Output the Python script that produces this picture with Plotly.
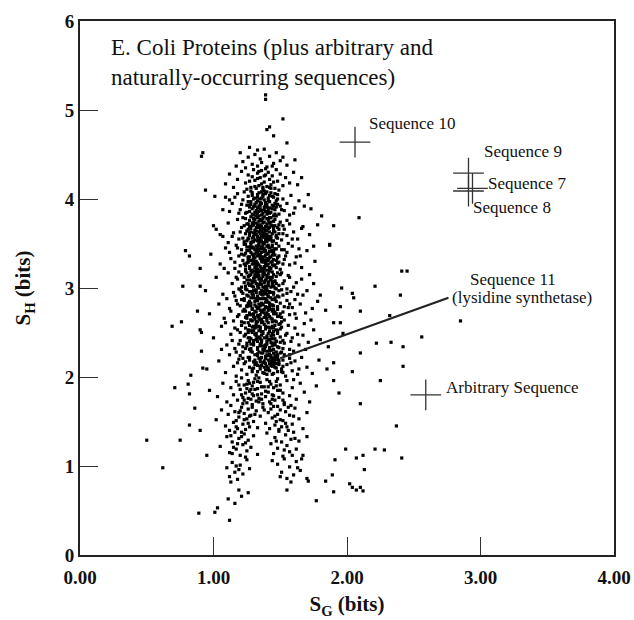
import plotly.graph_objects as go

# (S_G, S_H) pairs for E. coli proteins, grouped by region of the cloud
upper_tail = [
    (1.39,5.17),(1.39,5.12),(1.52,4.90),(1.42,4.81),(1.40,4.78),(1.45,4.71),(1.55,4.63),(0.92,4.52),(0.91,4.48),
    (1.20,4.52),(1.26,4.47),(1.33,4.55),(1.38,4.56),(1.61,4.44),(1.22,4.42),(1.29,4.39),(1.35,4.45),(1.42,4.48),
    (1.45,4.40),(1.50,4.43),(1.55,4.38),(1.31,4.50),(1.40,4.36),(1.17,4.37),(1.47,4.52),(1.36,4.41),(1.27,4.58),
    (1.52,4.47),(1.24,4.35),(1.44,4.37),(1.33,4.37),(1.66,4.24),
    (1.12,4.28),(1.18,4.22),(1.21,4.31),(1.24,4.18),(1.26,4.27),(1.28,4.13),(1.30,4.33),(1.31,4.21),(1.33,4.29),
    (1.34,4.15),(1.35,4.24),(1.36,4.32),(1.37,4.11),(1.38,4.19),(1.39,4.27),(1.40,4.14),(1.41,4.30),(1.42,4.22),
    (1.43,4.16),(1.44,4.26),(1.46,4.12),(1.47,4.33),(1.48,4.20),(1.50,4.28),(1.52,4.15),(1.54,4.24),(1.57,4.18),
    (1.60,4.30),(1.29,4.25),(1.32,4.12),(1.36,4.17),(1.39,4.34),(1.45,4.19),(1.27,4.20),(1.34,4.31),(1.38,4.26),
    (1.42,4.13),(1.25,4.11),(1.63,4.16),(1.15,4.13),(1.49,4.10),(1.33,4.23),(1.09,4.17),(0.94,4.10),(1.01,4.03),
]

core_upper = [
    (1.09,4.02),(1.14,3.95),(1.18,4.06),(1.20,3.88),(1.22,3.99),(1.23,4.08),(1.24,3.84),(1.25,3.93),(1.26,4.03),
    (1.27,3.86),(1.28,3.97),(1.29,4.07),(1.30,3.82),(1.30,3.91),(1.31,4.01),(1.32,3.87),(1.32,3.96),(1.33,4.05),
    (1.34,3.81),(1.34,3.92),(1.35,4.00),(1.35,3.89),(1.36,4.08),(1.36,3.95),(1.37,3.84),(1.37,4.03),(1.38,3.91),
    (1.38,3.99),(1.39,3.86),(1.39,4.06),(1.40,3.94),(1.40,3.83),(1.41,4.01),(1.41,3.89),(1.42,3.97),(1.43,4.07),
    (1.43,3.85),(1.44,3.93),(1.45,4.02),(1.46,3.88),(1.47,3.98),(1.48,4.05),(1.49,3.83),(1.50,3.92),(1.52,4.00),
    (1.53,3.87),(1.55,3.95),(1.58,4.04),(1.61,3.90),(1.64,3.98),(1.27,3.93),(1.33,3.98),(1.36,3.87),(1.42,3.90),
    (1.31,3.85),(1.38,4.09),(1.45,3.81),(1.21,3.94),(1.29,3.89),(1.47,3.91),(1.12,3.86),(1.57,3.82),(1.68,3.92),
    (1.07,3.88),(1.81,3.81),(1.02,3.66),(1.07,3.58),(1.11,3.73),(1.15,3.62),(1.18,3.77),(1.19,3.55),(1.21,3.68),
    (1.22,3.79),(1.23,3.52),(1.24,3.61),(1.25,3.72),(1.26,3.56),(1.26,3.66),(1.27,3.76),(1.28,3.51),(1.28,3.63),
    (1.29,3.70),(1.30,3.58),(1.30,3.78),(1.31,3.65),(1.31,3.54),(1.32,3.73),(1.32,3.60),(1.33,3.68),(1.33,3.79),
    (1.34,3.55),(1.34,3.63),(1.35,3.71),(1.35,3.52),(1.36,3.59),(1.36,3.76),(1.37,3.66),(1.37,3.57),(1.38,3.74),
    (1.38,3.62),(1.39,3.53),(1.39,3.69),(1.40,3.78),(1.40,3.60),(1.41,3.67),(1.41,3.55),(1.42,3.73),(1.42,3.63),
    (1.43,3.58),(1.44,3.70),(1.44,3.52),(1.45,3.64),(1.46,3.77),(1.47,3.57),(1.48,3.68),(1.49,3.61),(1.50,3.74),
    (1.51,3.54),(1.53,3.66),(1.55,3.59),(1.57,3.72),(1.60,3.63),(1.63,3.55),(1.67,3.69),(1.72,3.60),(1.29,3.56),
    (1.34,3.75),(1.37,3.51),(1.40,3.69),(1.43,3.79),(1.27,3.69),(1.31,3.61),(1.35,3.65),(1.39,3.58),(1.46,3.63),
    (1.25,3.53),(1.33,3.57),(1.38,3.67),(1.42,3.54),(1.30,3.71),(1.36,3.63),(1.41,3.76),(1.48,3.56),(1.52,3.70),
    (1.23,3.70),(1.78,3.71),(1.90,3.70),(1.87,3.48),(1.00,3.70),(1.05,3.60),(2.09,3.79),
]

core_middle = [
    (0.98,3.38),(1.05,3.27),(1.09,3.45),(1.13,3.33),(1.16,3.22),(1.17,3.48),(1.19,3.36),(1.20,3.25),(1.21,3.43),
    (1.22,3.31),(1.23,3.49),(1.24,3.21),(1.24,3.39),(1.25,3.28),(1.25,3.46),(1.26,3.35),(1.27,3.24),(1.27,3.42),
    (1.28,3.31),(1.28,3.49),(1.29,3.20),(1.29,3.38),(1.30,3.27),(1.30,3.45),(1.31,3.34),(1.31,3.23),(1.32,3.41),
    (1.32,3.30),(1.33,3.47),(1.33,3.21),(1.34,3.37),(1.34,3.26),(1.35,3.44),(1.35,3.33),(1.36,3.22),(1.36,3.40),
    (1.37,3.29),(1.37,3.48),(1.38,3.35),(1.38,3.24),(1.39,3.42),(1.39,3.31),(1.40,3.20),(1.40,3.39),(1.41,3.27),
    (1.41,3.46),(1.42,3.34),(1.42,3.23),(1.43,3.41),(1.44,3.30),(1.44,3.48),(1.45,3.25),(1.46,3.37),(1.47,3.44),
    (1.48,3.28),(1.49,3.36),(1.50,3.21),(1.51,3.43),(1.53,3.32),(1.55,3.40),(1.57,3.26),(1.59,3.47),(1.62,3.35),
    (1.66,3.23),(1.70,3.42),(1.76,3.30),(1.26,3.29),(1.30,3.36),(1.33,3.44),(1.36,3.31),(1.39,3.25),(1.42,3.45),
    (1.35,3.38),(1.29,3.46),(1.32,3.24),(1.38,3.41),(1.41,3.33),(1.45,3.42),(1.47,3.31),(1.27,3.35),(1.23,3.27),
    (1.34,3.48),(1.37,3.20),(1.40,3.47),(1.43,3.22),(1.21,3.38),(1.31,3.29),(1.36,3.46),(1.44,3.37),(1.52,3.27),
    (1.12,3.40),(1.64,3.44),(0.79,3.42),(0.82,3.36),(0.90,3.22),(1.75,3.47),(1.87,3.49),
    (0.90,3.02),(0.94,2.97),(1.02,3.12),(1.07,2.93),(1.11,3.17),(1.14,3.05),(1.16,2.91),(1.18,3.10),(1.19,2.99),
    (1.21,3.15),(1.22,2.94),(1.23,3.06),(1.24,3.19),(1.25,2.98),(1.25,3.09),(1.26,2.91),(1.27,3.03),(1.27,3.14),
    (1.28,2.96),(1.29,3.08),(1.29,3.18),(1.30,2.92),(1.30,3.01),(1.31,3.12),(1.32,2.95),(1.32,3.05),(1.33,3.16),
    (1.33,2.90),(1.34,3.00),(1.34,3.10),(1.35,2.94),(1.35,3.19),(1.36,3.04),(1.36,2.97),(1.37,3.13),(1.37,2.92),
    (1.38,3.07),(1.38,3.17),(1.39,2.99),(1.39,3.02),(1.40,3.11),(1.40,2.93),(1.41,3.06),(1.41,3.16),(1.42,2.96),
    (1.43,3.09),(1.43,3.01),(1.44,3.18),(1.45,2.95),(1.46,3.07),(1.47,3.13),(1.48,2.91),(1.49,3.03),(1.50,3.15),
    (1.51,2.98),(1.53,3.08),(1.55,2.94),(1.57,3.12),(1.60,3.01),(1.63,2.93),(1.66,3.10),(1.70,2.97),(1.75,3.05),
    (1.80,2.92),(1.28,3.04),(1.31,2.97),(1.34,3.14),(1.36,3.09),(1.39,2.94),(1.42,3.12),(1.26,3.13),(1.32,3.18),
    (1.38,2.96),(1.44,3.04),(1.35,3.06),(1.30,3.11),(1.40,3.00),(1.47,2.99),(1.24,3.02),(1.21,2.96),(1.52,3.05),
    (1.58,2.96),(1.33,3.03),(1.37,3.19),(1.41,2.91),(1.29,2.93),(0.77,3.02),(1.96,3.00),(2.04,2.94),(2.05,2.89),
    (2.21,3.02),(2.41,3.19),(2.45,3.19),(2.40,2.92),
]

core_lower = [
    (0.88,2.74),(0.97,2.71),(1.04,2.82),(1.08,2.66),(1.12,2.77),(1.15,2.63),(1.17,2.86),(1.19,2.70),(1.20,2.80),
    (1.21,2.62),(1.22,2.74),(1.23,2.88),(1.24,2.67),(1.25,2.79),(1.26,2.61),(1.27,2.72),(1.27,2.85),(1.28,2.64),
    (1.29,2.76),(1.30,2.89),(1.30,2.68),(1.31,2.81),(1.32,2.62),(1.32,2.73),(1.33,2.86),(1.34,2.66),(1.34,2.78),
    (1.35,2.70),(1.36,2.83),(1.36,2.61),(1.37,2.75),(1.38,2.88),(1.38,2.67),(1.39,2.79),(1.40,2.63),(1.40,2.72),
    (1.41,2.84),(1.42,2.68),(1.42,2.77),(1.43,2.89),(1.44,2.65),(1.45,2.80),(1.45,2.71),(1.46,2.87),(1.47,2.62),
    (1.48,2.76),(1.49,2.68),(1.50,2.83),(1.52,2.73),(1.53,2.64),(1.55,2.86),(1.57,2.70),(1.59,2.78),(1.62,2.66),
    (1.65,2.82),(1.69,2.72),(1.73,2.64),(1.78,2.85),(1.84,2.75),(1.29,2.70),(1.33,2.77),(1.35,2.64),(1.37,2.82),
    (1.39,2.69),(1.41,2.75),(1.26,2.80),(1.31,2.65),(1.36,2.73),(1.43,2.81),(1.47,2.71),(1.28,2.83),(1.34,2.88),
    (1.40,2.86),(1.44,2.74),(1.23,2.76),(1.51,2.67),(1.18,2.82),(1.56,2.78),(1.61,2.87),(1.25,2.69),(0.69,2.57),
    (0.76,2.62),(0.90,2.53),(1.95,2.79),(2.10,2.74),(1.90,2.61),(1.95,2.61),(2.32,2.69),(2.85,2.63),
    (0.91,2.50),(1.00,2.44),(1.06,2.57),(1.10,2.36),(1.13,2.48),(1.16,2.32),(1.18,2.53),(1.20,2.41),(1.21,2.58),
    (1.22,2.34),(1.23,2.46),(1.24,2.55),(1.25,2.38),(1.26,2.50),(1.27,2.31),(1.28,2.43),(1.29,2.56),(1.30,2.36),
    (1.31,2.48),(1.32,2.59),(1.33,2.33),(1.34,2.45),(1.35,2.54),(1.36,2.39),(1.37,2.51),(1.38,2.32),(1.38,2.44),
    (1.39,2.57),(1.40,2.37),(1.41,2.49),(1.42,2.30),(1.42,2.42),(1.43,2.55),(1.44,2.35),(1.45,2.47),(1.46,2.58),
    (1.47,2.40),(1.48,2.52),(1.49,2.33),(1.50,2.45),(1.51,2.56),(1.53,2.38),(1.55,2.49),(1.57,2.31),(1.59,2.44),
    (1.61,2.55),(1.64,2.36),(1.67,2.47),(1.71,2.39),(1.75,2.53),(1.80,2.42),(1.86,2.34),(1.30,2.52),(1.33,2.40),
    (1.36,2.47),(1.39,2.34),(1.41,2.56),(1.44,2.43),(1.46,2.36),(1.34,2.57),(1.37,2.31),(1.40,2.46),(1.43,2.39),
    (1.28,2.37),(1.32,2.49),(1.47,2.53),(1.26,2.44),(1.52,2.41),(1.49,2.59),(1.24,2.32),(1.35,2.35),(1.45,2.51),
    (1.97,2.49),(2.56,2.45),(2.22,2.38),(2.33,2.39),(2.42,2.34),(0.91,2.29),
    (0.92,2.10),(0.95,2.09),(1.04,2.18),(1.09,2.05),(1.12,2.25),(1.15,2.12),(1.17,2.01),(1.19,2.20),(1.21,2.08),
    (1.22,2.28),(1.23,2.15),(1.25,2.03),(1.26,2.22),(1.27,2.11),(1.28,2.29),(1.29,2.06),(1.30,2.17),(1.31,2.25),
    (1.32,2.02),(1.33,2.13),(1.34,2.21),(1.35,2.09),(1.36,2.27),(1.37,2.16),(1.38,2.04),(1.39,2.23),(1.40,2.12),
    (1.41,2.19),(1.42,2.07),(1.42,2.26),(1.43,2.15),(1.44,2.21),(1.44,2.03),(1.45,2.18),(1.46,2.24),(1.46,2.11),
    (1.47,2.20),(1.48,2.06),(1.49,2.16),(1.50,2.27),(1.51,2.09),(1.52,2.19),(1.54,2.01),(1.55,2.14),(1.57,2.25),
    (1.59,2.07),(1.61,2.18),(1.63,2.03),(1.66,2.22),(1.70,2.11),(1.74,2.04),(1.79,2.19),(1.85,2.09),(1.43,2.22),
    (1.45,2.14),(1.40,2.25),(1.38,2.18),(1.47,2.28),(1.41,2.10),(1.36,2.13),(1.33,2.26),(1.30,2.10),(1.27,2.19),
    (1.48,2.23),(1.44,2.12),(1.39,2.08),(1.35,2.20),(1.24,2.17),(1.52,2.05),(1.58,2.16),(1.20,2.24),(0.83,2.02),
    (2.10,2.27),(1.90,2.16),(2.42,2.12),(2.04,2.06),
]

# Densest part of the cloud, where the dots run together
core_dense = [
    (1.28,4.09),(1.31,4.14),(1.34,4.07),(1.37,4.13),(1.40,4.08),(1.43,4.12),(1.46,4.06),
    (1.26,3.97),(1.29,4.04),(1.31,3.94),(1.33,4.02),(1.35,3.96),(1.37,4.05),(1.39,3.93),(1.41,3.98),(1.44,4.03),
    (1.46,3.95),(1.48,4.00),
    (1.25,3.85),(1.27,3.91),(1.29,3.83),(1.31,3.92),(1.33,3.84),(1.35,3.93),(1.36,3.82),(1.38,3.88),(1.40,3.91),
    (1.42,3.84),(1.44,3.89),(1.46,3.83),(1.48,3.94),
    (1.24,3.78),(1.26,3.72),(1.28,3.80),(1.30,3.74),(1.32,3.81),(1.33,3.71),(1.35,3.77),(1.37,3.73),(1.38,3.80),
    (1.40,3.72),(1.42,3.79),(1.43,3.70),(1.45,3.75),(1.47,3.81),(1.49,3.71),
    (1.25,3.64),(1.27,3.59),(1.28,3.67),(1.30,3.62),(1.32,3.68),(1.33,3.58),(1.35,3.61),(1.36,3.69),(1.38,3.60),
    (1.39,3.65),(1.41,3.58),(1.42,3.68),(1.44,3.61),(1.45,3.67),(1.47,3.59),(1.49,3.66),
    (1.24,3.49),(1.26,3.55),(1.27,3.46),(1.29,3.52),(1.30,3.57),(1.32,3.47),(1.33,3.53),(1.35,3.56),(1.36,3.45),
    (1.38,3.50),(1.39,3.55),(1.41,3.48),(1.42,3.57),(1.44,3.46),(1.45,3.53),(1.47,3.50),(1.49,3.47),
    (1.23,3.37),(1.25,3.42),(1.26,3.34),(1.28,3.40),(1.30,3.33),(1.31,3.43),(1.33,3.36),(1.34,3.42),(1.36,3.35),
    (1.37,3.44),(1.39,3.37),(1.40,3.33),(1.42,3.41),(1.43,3.35),(1.45,3.39),(1.46,3.44),(1.48,3.34),
    (1.24,3.25),(1.26,3.31),(1.27,3.22),(1.29,3.27),(1.30,3.32),(1.32,3.21),(1.33,3.28),(1.35,3.24),(1.36,3.30),
    (1.38,3.21),(1.39,3.28),(1.41,3.31),(1.42,3.20),(1.44,3.26),(1.45,3.32),(1.47,3.23),(1.49,3.29),
    (1.23,3.12),(1.25,3.17),(1.27,3.09),(1.28,3.15),(1.30,3.19),(1.31,3.08),(1.33,3.13),(1.34,3.18),(1.36,3.11),
    (1.37,3.16),(1.39,3.09),(1.40,3.14),(1.42,3.19),(1.43,3.10),(1.45,3.15),(1.46,3.08),(1.48,3.17),
    (1.24,2.99),(1.26,3.05),(1.27,2.96),(1.29,3.02),(1.31,3.07),(1.32,2.98),(1.34,3.04),(1.35,2.95),(1.37,3.01),
    (1.38,3.06),(1.40,2.97),(1.41,3.03),(1.43,2.95),(1.44,3.07),(1.46,3.00),(1.47,3.05),(1.49,2.97),
    (1.23,2.86),(1.25,2.92),(1.26,2.83),(1.28,2.89),(1.29,2.94),(1.31,2.85),(1.33,2.91),(1.34,2.82),(1.36,2.88),
    (1.37,2.93),(1.39,2.84),(1.41,2.90),(1.42,2.83),(1.44,2.87),(1.45,2.93),(1.47,2.85),(1.49,2.90),
    (1.24,2.74),(1.25,2.80),(1.27,2.70),(1.29,2.77),(1.30,2.71),(1.32,2.79),(1.33,2.69),(1.35,2.75),(1.37,2.81),
    (1.38,2.72),(1.40,2.78),(1.41,2.70),(1.43,2.76),(1.44,2.81),(1.46,2.73),(1.48,2.79),(1.50,2.71),
    (1.23,2.61),(1.25,2.66),(1.27,2.58),(1.28,2.64),(1.30,2.57),(1.31,2.67),(1.33,2.62),(1.35,2.56),(1.36,2.65),
    (1.38,2.59),(1.39,2.68),(1.41,2.61),(1.43,2.66),(1.44,2.57),(1.46,2.63),(1.48,2.68),(1.50,2.60),
    (1.24,2.48),(1.26,2.53),(1.27,2.44),(1.29,2.50),(1.31,2.55),(1.32,2.46),(1.34,2.52),(1.35,2.43),(1.37,2.49),
    (1.39,2.54),(1.40,2.44),(1.42,2.51),(1.43,2.46),(1.45,2.55),(1.46,2.43),(1.48,2.49),(1.50,2.54),
    (1.25,2.35),(1.27,2.40),(1.28,2.32),(1.30,2.38),(1.32,2.42),(1.33,2.31),(1.35,2.37),(1.36,2.41),(1.38,2.30),
    (1.39,2.36),(1.41,2.42),(1.42,2.33),(1.44,2.38),(1.45,2.31),(1.47,2.40),(1.48,2.34),(1.50,2.39),(1.52,2.32),
    (1.27,2.22),(1.29,2.28),(1.31,2.19),(1.33,2.24),(1.35,2.17),(1.37,2.27),(1.39,2.21),(1.40,2.29),(1.42,2.18),
    (1.43,2.24),(1.44,2.16),(1.45,2.27),(1.46,2.20),(1.47,2.15),(1.48,2.25),(1.49,2.19),(1.51,2.28),
    (1.29,2.09),(1.31,2.14),(1.33,2.06),(1.35,2.12),(1.37,2.05),(1.39,2.15),(1.41,2.08),(1.43,2.13),(1.45,2.04),
    (1.47,2.10),(1.49,2.14),(1.51,2.06),
    (1.30,4.00),(1.36,4.01),(1.42,4.04),(1.33,3.90),(1.39,3.96),(1.45,3.92),(1.28,3.94),(1.34,3.86),(1.41,3.86),
    (1.37,3.78),(1.31,3.77),(1.43,3.74),(1.29,3.73),(1.35,3.68),(1.40,3.64),(1.32,3.64),(1.46,3.70),(1.27,3.62),
    (1.37,3.62),(1.43,3.55),(1.30,3.52),(1.34,3.50),(1.40,3.52),(1.36,3.53),(1.28,3.45),(1.33,3.40),(1.38,3.44),
    (1.44,3.42),(1.31,3.38),(1.35,3.35),(1.41,3.38),(1.29,3.31),(1.37,3.32),(1.43,3.29),(1.32,3.26),(1.40,3.25),
    (1.34,3.20),(1.46,3.26),(1.28,3.19),(1.38,3.15),(1.31,3.15),(1.44,3.12),(1.35,3.10),(1.41,3.07),(1.29,3.06),
    (1.33,3.02),(1.38,3.00),(1.45,3.02),(1.30,2.97),(1.36,2.93),(1.42,2.95),(1.32,2.88),(1.39,2.88),(1.46,2.89),
    (1.28,2.80),(1.35,2.80),(1.42,2.80),(1.31,2.74),(1.38,2.76),(1.45,2.76),(1.34,2.68),(1.40,2.66),(1.29,2.63),
    (1.37,2.62),(1.44,2.62),(1.32,2.56),(1.42,2.55),(1.28,2.52),(1.36,2.51),(1.44,2.49),(1.33,2.44),(1.40,2.40),
    (1.30,2.41),(1.46,2.38),(1.37,2.35),(1.43,2.30),(1.34,2.28),(1.41,2.24),(1.45,2.21),(1.47,2.23),(1.44,2.19),
    (1.42,2.15),(1.38,2.11),(1.46,2.17),(1.48,2.20),(1.36,2.22),(1.32,2.16),(1.40,2.03),(1.34,1.99),
]

# Looser halo either side of the dense core
core_halo = [
    (1.14,3.58),(1.16,3.29),(1.17,3.12),(1.15,2.95),(1.13,2.74),(1.16,2.55),(1.14,2.41),(1.17,2.28),(1.18,2.16),
    (1.19,3.84),(1.20,3.63),(1.18,3.45),(1.19,3.18),(1.20,2.98),(1.18,2.68),(1.20,2.50),(1.19,2.37),(1.21,3.01),
    (1.22,3.56),(1.21,2.87),(1.22,2.21),(1.16,4.02),(1.11,3.51),(1.10,2.88),(1.09,2.61),(1.08,3.22),(1.06,2.31),
    (1.12,3.99),
    (1.51,3.88),(1.52,3.61),(1.53,3.43),(1.51,3.17),(1.52,2.92),(1.53,2.79),(1.51,2.62),(1.54,2.47),(1.53,2.25),
    (1.52,2.12),(1.55,3.76),(1.56,3.50),(1.54,3.36),(1.56,3.14),(1.55,2.99),(1.57,2.82),(1.56,2.58),(1.58,2.40),
    (1.57,2.21),(1.60,3.84),(1.59,3.55),(1.61,3.28),(1.62,3.06),(1.61,2.71),(1.63,2.48),(1.60,2.29),(1.64,2.09),
    (1.66,3.67),(1.65,3.36),(1.67,2.92),(1.68,2.60),(1.69,2.31),(1.72,3.15),(1.74,2.77),(1.71,4.05),(1.73,3.89),
    (1.25,1.92),(1.28,1.86),(1.30,1.94),(1.33,1.80),(1.36,1.89),(1.39,1.84),(1.42,1.95),(1.45,1.79),(1.47,1.90),
    (1.50,1.85),(1.22,1.70),(1.26,1.76),(1.29,1.66),(1.34,1.72),(1.38,1.63),(1.43,1.70),(1.48,1.67),(1.52,1.74),
    (1.56,1.66),(1.19,1.60),(1.23,1.52),(1.27,1.56),(1.46,1.56),(1.50,1.52),(1.54,1.48),(1.60,1.56),(1.17,1.44),
    (1.21,1.38),(1.56,1.40),(1.61,1.31),(1.14,1.14),(1.24,1.10),(1.59,1.12),(1.63,0.98),(1.17,1.00),
]

lower_lobes = [
    (0.97,1.85),(1.03,1.78),(1.07,1.93),(1.10,1.72),(1.13,1.88),(1.15,1.80),(1.17,1.95),(1.18,1.74),(1.20,1.86),
    (1.21,1.99),(1.22,1.77),(1.23,1.91),(1.24,1.82),(1.25,1.71),(1.26,1.96),(1.27,1.84),(1.28,1.75),(1.29,1.90),
    (1.30,1.79),(1.31,1.98),(1.32,1.73),(1.33,1.87),(1.34,1.76),(1.35,1.94),(1.36,1.81),(1.37,1.70),(1.38,1.89),
    (1.39,1.78),(1.40,1.97),(1.41,1.83),(1.42,1.72),(1.43,1.92),(1.44,1.80),(1.45,1.88),(1.46,1.74),(1.47,1.95),
    (1.48,1.85),(1.49,1.77),(1.50,1.91),(1.52,1.82),(1.53,1.71),(1.55,1.96),(1.57,1.79),(1.59,1.88),(1.62,1.75),
    (1.65,1.93),(1.68,1.83),(1.72,1.72),(1.77,1.90),(1.25,1.87),(1.29,1.81),(1.33,1.95),(1.36,1.75),(1.21,1.80),
    (1.27,1.93),(1.41,1.89),(1.19,1.91),(1.31,1.86),(1.44,1.75),(1.48,1.98),(1.23,1.74),(1.60,1.97),(0.71,1.88),
    (0.82,1.81),(0.81,1.92),(2.25,1.96),(1.90,1.96),(1.94,1.82),(2.10,1.70),
    (1.02,1.52),(1.06,1.63),(1.09,1.45),(1.11,1.58),(1.13,1.68),(1.15,1.49),(1.16,1.61),(1.18,1.42),(1.19,1.55),
    (1.21,1.66),(1.22,1.47),(1.23,1.59),(1.24,1.41),(1.25,1.53),(1.26,1.64),(1.27,1.44),(1.28,1.57),(1.29,1.69),
    (1.30,1.50),(1.32,1.62),(1.33,1.43),(1.35,1.56),(1.37,1.66),(1.39,1.48),(1.41,1.60),(1.42,1.42),(1.44,1.54),
    (1.45,1.67),(1.46,1.46),(1.48,1.58),(1.49,1.41),(1.50,1.63),(1.52,1.51),(1.53,1.69),(1.55,1.44),(1.57,1.57),
    (1.59,1.47),(1.61,1.65),(1.64,1.53),(1.67,1.42),(1.70,1.60),(1.20,1.62),(1.26,1.48),(1.43,1.64),(1.47,1.50),
    (1.51,1.44),(1.17,1.51),(1.54,1.61),(1.12,1.40),(1.31,1.58),(1.58,1.68),(0.86,1.65),(0.82,1.46),(2.37,1.45),
    (1.05,1.22),(1.10,1.33),(1.12,1.15),(1.14,1.27),(1.16,1.38),(1.17,1.19),(1.19,1.31),(1.20,1.12),(1.22,1.24),
    (1.23,1.36),(1.25,1.17),(1.26,1.29),(1.28,1.21),(1.30,1.34),(1.33,1.13),(1.40,1.37),(1.43,1.25),(1.45,1.14),
    (1.46,1.32),(1.48,1.20),(1.49,1.39),(1.51,1.27),(1.52,1.11),(1.54,1.35),(1.55,1.23),(1.57,1.16),(1.58,1.30),
    (1.60,1.38),(1.62,1.19),(1.64,1.28),(1.67,1.12),(1.70,1.33),(1.15,1.21),(1.21,1.33),(1.18,1.25),(1.47,1.28),
    (1.53,1.18),(1.13,1.34),(1.24,1.26),(0.50,1.29),(0.75,1.29),(0.90,1.40),(0.95,1.12),
    (1.99,1.19),(2.21,1.19),(2.28,1.18),(2.12,1.12),(2.07,1.09),(2.41,1.09),(1.91,1.07),
]

bottom_tail = [
    (1.10,0.98),(1.12,0.88),(1.14,1.04),(1.16,0.93),(1.18,0.85),(1.20,1.01),(1.22,0.91),(1.25,1.07),(1.13,0.82),
    (1.19,0.96),(1.48,1.02),(1.51,0.93),(1.53,1.08),(1.55,0.86),(1.57,0.99),(1.60,0.90),(1.62,1.05),(1.65,0.95),
    (1.58,0.82),(1.66,1.08),(1.70,0.86),(1.50,0.88),(1.27,0.97),(1.44,1.06),(0.62,0.98),
    (0.89,0.47),(1.01,0.48),(1.03,0.53),(1.12,0.39),(1.11,0.63),(1.16,0.58),(1.26,0.70),(1.21,0.66),(1.19,0.73),
    (1.55,0.73),(1.71,0.83),(1.84,0.83),(1.90,0.71),(1.77,0.61),(2.13,0.96),(1.89,0.90),
    (2.02,0.80),(2.04,0.76),(2.07,0.73),(2.10,0.76),(2.12,0.72),
]

# Named test sequences plotted as crosses
seq_names = ["Sequence 10", "Sequence 9", "Sequence 7", "Sequence 8", "Arbitrary Sequence"]
seq_sg = [2.06, 2.91, 2.94, 2.91, 2.59]
seq_sh = [4.64, 4.29, 4.12, 4.09, 1.80]

# Label text and where each label sits
label_text = ["Sequence 10", "Sequence 9", "Sequence 7", "Sequence 8",
              "Sequence 11", "(lysidine synthetase)", "Arbitrary Sequence"]
label_sg = [2.15, 3.01, 3.04, 2.93, 2.91, 2.77, 2.73]
label_sh = [4.85, 4.53, 4.17, 3.90, 3.10, 2.89, 1.88]

# Leader from the Sequence 11 label down into the protein cloud
seq11_sg = [1.50, 2.76]
seq11_sh = [2.21, 2.89]

x_ticks = [0, 1, 2, 3, 4]
x_tick_text = ["0.00", "1.00", "2.00", "3.00", "4.00"]
y_ticks = [0, 1, 2, 3, 4, 5, 6]

SERIF = "Liberation Serif, Times New Roman, serif"

all_points = (upper_tail + core_upper + core_middle + core_lower + core_dense
              + core_halo + lower_lobes + bottom_tail)
protein_sg = [p[0] for p in all_points]
protein_sh = [p[1] for p in all_points]

fig = go.Figure()

fig.add_trace(go.Scatter(
    x=protein_sg, y=protein_sh, mode="markers",
    marker=dict(symbol="square", size=3.2, color="black", line=dict(width=0)),
    hoverinfo="skip", showlegend=False,
))

fig.add_trace(go.Scatter(
    x=seq11_sg, y=seq11_sh, mode="lines",
    line=dict(color="#222222", width=2.2),
    hoverinfo="skip", showlegend=False,
))

fig.add_trace(go.Scatter(
    x=seq_sg, y=seq_sh, mode="markers", text=seq_names,
    marker=dict(symbol="cross-thin-open", size=22, color="#333333",
                line=dict(width=1.3, color="#333333")),
    hoverinfo="text", showlegend=False,
))

for t, xs, ys in zip(label_text, label_sg, label_sh):
    fig.add_annotation(x=xs, y=ys, text=t, showarrow=False,
                       xanchor="left", yanchor="middle",
                       font=dict(family=SERIF, size=17, color="#111111"))

fig.add_annotation(
    xref="paper", yref="paper", x=0.055, y=0.978, xanchor="left", yanchor="top",
    text="E. Coli Proteins (plus arbitrary and<br>naturally-occurring sequences)",
    showarrow=False, align="left",
    font=dict(family=SERIF, size=23, color="#111111"),
)

axis_common = dict(
    showline=True, linecolor="#222222", linewidth=2, mirror=True,
    ticks="inside", ticklen=18, tickwidth=1.3, tickcolor="#333333",
    showgrid=False, zeroline=False,
    tickfont=dict(family=SERIF, size=19, color="#111111", weight="bold"),
)

fig.update_xaxes(
    range=[0, 4], tickvals=x_ticks, ticktext=x_tick_text, ticklabelstandoff=4,
    title=dict(text="S<sub>G</sub> (bits)", standoff=10,
               font=dict(family=SERIF, size=21, color="#111111", weight="bold")),
    **axis_common,
)
fig.update_yaxes(
    range=[0, 6], tickvals=y_ticks,
    title=dict(text="S<sub>H</sub> (bits)", standoff=28,
               font=dict(family=SERIF, size=21, color="#111111", weight="bold")),
    **axis_common,
)

fig.update_layout(
    width=634, height=620,
    margin=dict(l=80, r=20, t=21, b=65, autoexpand=False),
    plot_bgcolor="white", paper_bgcolor="white",
    showlegend=False,
)

fig.write_html("out.html")
